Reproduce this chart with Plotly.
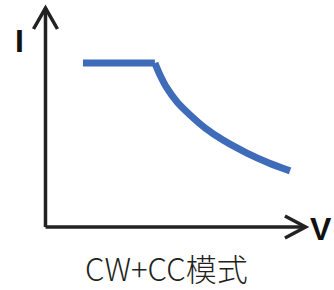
import plotly.graph_objects as go

# CC segment (constant current) and CW segment (constant power curve)
cc_v = [1.47, 4.29]
cc_i = [7.45, 7.45]
cw_v = [4.29, 4.49, 4.76, 5.16, 5.67, 6.26, 6.96, 7.90, 8.76, 9.59]
cw_i = [7.45, 6.91, 6.32, 5.68, 5.09, 4.50, 3.95, 3.36, 2.91, 2.55]

x_label = "V"
y_label = "I"
caption = "CW+CC模式"

blue = "#3F6CB8"
dark = "#222222"

fig = go.Figure()
fig.add_trace(go.Scatter(x=cc_v, y=cc_i, mode="lines",
                         line=dict(color=blue, width=7), hoverinfo="skip"))
fig.add_trace(go.Scatter(x=cw_v, y=cw_i, mode="lines",
                         line=dict(color=blue, width=7, shape="spline", smoothing=0.8),
                         hoverinfo="skip"))

# axes with open arrowheads
ax_line = dict(color=dark, width=3.5)
fig.add_shape(type="path", path="M 0 0 L 0 9.95", line=ax_line, xref="x", yref="y")
fig.add_shape(type="path", path="M 0 0 L 10.2 0", line=ax_line, xref="x", yref="y")
fig.add_shape(type="path", path="M -0.47 9.0 L 0 9.95 L 0.47 9.0", line=ax_line,
              xref="x", yref="y")
fig.add_shape(type="path", path="M 9.39 0.5 L 10.2 0 L 9.39 -0.5", line=ax_line,
              xref="x", yref="y")

fig.add_annotation(x=-1.02, y=8.45, text=f"<b>{y_label}</b>", showarrow=False,
                   font=dict(family="Liberation Sans", size=32, color="#111111"))
fig.add_annotation(x=10.8, y=-0.09, text=f"<b>{x_label}</b>", showarrow=False,
                   font=dict(family="Liberation Sans", size=32, color="#111111"))
fig.add_annotation(x=4.75, y=-1.84, text=caption, showarrow=False,
                   font=dict(family="Noto Sans CJK SC", size=31, color="#231f20", weight=300))

fig.update_layout(
    width=334, height=290,
    margin=dict(l=0, r=0, t=0, b=0),
    paper_bgcolor="white", plot_bgcolor="white",
    showlegend=False,
    xaxis=dict(range=[-1.784, 11.314], visible=False, fixedrange=True),
    yaxis=dict(range=[-2.864, 10.318], visible=False, fixedrange=True),
)
fig.write_html("out.html", config={"displayModeBar": False},
               post_script="document.body.style.margin='0';document.body.style.overflow='hidden';")
